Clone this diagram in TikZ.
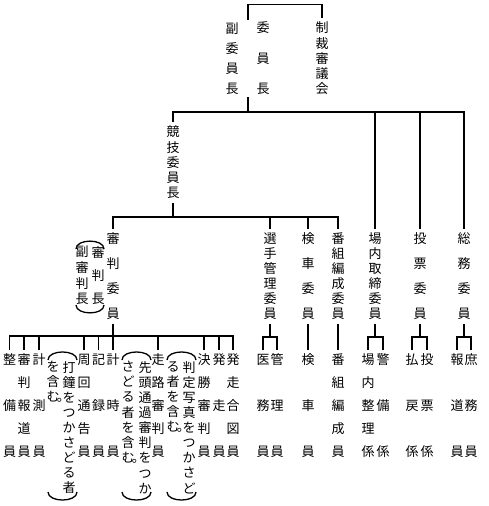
\documentclass[tikz,border=0pt]{standalone}
\usepackage{fontspec}
\newfontfamily\cjk{Noto Sans CJK JP}
\newcommand{\muend}{む\rlap{\kern-0.2em 。}}
\begin{document}
\begin{tikzpicture}[x=1pt,y=-1pt,line width=1.8pt,
  vc/.style={font=\cjk\fontsize{13}{#1}\selectfont, align=center, inner xsep=0pt, inner ysep=3.5pt},
  parenarc/.style={line width=1.3pt}]
\useasboundingbox (0,0) rectangle (488,506);
% top level
\node[vc=30.5] (iin) at (263,58.5) {委\\員\\長};
\node[vc=20] (fuku) at (232,59) {副\\委\\員\\長};
\node[vc=15.25] (seisai) at (322,58.5) {制\\裁\\審\\議\\会};
\node[vc=15.25] (kyougi) at (173,162.5) {競\\技\\委\\員\\長};
% second level
\node[vc=25] (shinpan) at (113,276.5) {審\\判\\委\\員};
\node[vc=23] (shc) at (98,276) {審\\判\\長};
\node[vc=15.67] (fshc) at (82,275.5) {副\\審\\判\\長};
\node[vc=15] (senshu) at (270,276.5) {選\\手\\管\\理\\委\\員};
\node[vc=25] (kensha) at (308,276.5) {検\\車\\委\\員};
\node[vc=15] (bangumi) at (338,276.5) {番\\組\\編\\成\\委\\員};
\node[vc=15] (jounai) at (375,276.5) {場\\内\\取\\締\\委\\員};
\node[vc=25] (touhyou) at (420,276.5) {投\\票\\委\\員};
\node[vc=25] (soumu) at (464,276.5) {総\\務\\委\\員};
% children of right side
\node[vc=46] (imu) at (263,406) {医\\務\\員};
\node[vc=46] (kanri) at (277,406) {管\\理\\員};
\node[vc=46] (kensa) at (308,406) {検\\車\\員};
\node[vc=23] (bangumiin) at (338,406) {番\\組\\編\\成\\員};
\node[vc=23] (seiri) at (368,406) {場\\内\\整\\理\\係};
\node[vc=46] (keibi) at (383,406) {警\\備\\係};
\node[vc=46] (harai) at (412,406) {払\\戻\\係};
\node[vc=46] (touhyoukakari) at (427,406) {投\\票\\係};
\node[vc=46] (houdou) at (457,406) {報\\道\\員};
\node[vc=46] (shomu) at (471,406) {庶\\務\\員};
% bottom row
\node[vc=46] (seibi) at (9.5,406) {整\\備\\員};
\node[vc=23] (shinhou) at (24,406) {審\\判\\報\\道\\員};
\node[vc=46] (keisoku) at (39,406) {計\\測\\員};
\node[vc=15.1] (dashou) at (69,427.5) {打\\鐘\\を\\つ\\か\\さ\\ど\\る\\者};
\node[vc=15.1] (dashouL) at (53,382.1) {を\\含\\\muend};
\node[vc=23] (shuukai) at (84,406) {周\\回\\通\\告\\員};
\node[vc=46] (kiroku) at (98.5,406) {記\\録\\員};
\node[vc=46] (keiji) at (113,406) {計\\時\\員};
\node[vc=15.1] (sentou) at (145,427.5) {先\\頭\\通\\過\\審\\判\\を\\つ\\か};
\node[vc=15.1] (sentouL) at (128,412.3) {さ\\ど\\る\\者\\を\\含\\\muend};
\node[vc=23] (sourou) at (158,406) {走\\路\\審\\判\\員};
\node[vc=15.1] (hantei) at (189,427.5) {判\\定\\写\\真\\を\\つ\\か\\さ\\ど};
\node[vc=15.1] (hanteiL) at (173,397.2) {る\\者\\を\\含\\\muend};
\node[vc=23] (kesshou) at (204,406) {決\\勝\\審\\判\\員};
\node[vc=46] (hassou) at (219,406) {発\\走\\員};
\node[vc=23] (aizu) at (233,406) {発\\走\\合\\図\\員};
% parenthesis arcs
\draw[parenarc] (76,249) .. controls (76,238.5) and (104,238.5) .. (104,249);
\draw[parenarc] (76,305) .. controls (76,315.5) and (104,315.5) .. (104,305);
\draw[parenarc] (48,360) .. controls (48,349.3) and (77,349.3) .. (77,360);
\draw[parenarc] (48,492) .. controls (48,502.7) and (77,502.7) .. (77,492);
\draw[parenarc] (122,360) .. controls (122,349.3) and (151,349.3) .. (151,360);
\draw[parenarc] (122,492) .. controls (122,502.7) and (151,502.7) .. (151,492);
\draw[parenarc] (167,360) .. controls (167,349.3) and (196,349.3) .. (196,360);
\draw[parenarc] (167,492) .. controls (167,502.7) and (196,502.7) .. (196,492);
% junction coordinates
\coordinate (legTop) at (248,20);
\coordinate (legBot) at (248,97);
\coordinate (hTop) at (0,4.5);
\coordinate (hA) at (0,112);
\coordinate (hB) at (0,217);
\coordinate (hC) at (0,336);
\coordinate (hD) at (0,337);
% connectors
\draw (legTop) -- (legTop |- hTop) -| (seisai.north);
\draw (legBot) -- (legBot |- hA);
\draw (kyougi.north) |- (soumu.north |- hA) -- (soumu.north);
\draw (jounai.north) -- (jounai.north |- hA);
\draw (touhyou.north) -- (touhyou.north |- hA);
\draw (kyougi.south) -- (kyougi.south |- hB);
\draw (shinpan.north) |- (bangumi.north |- hB) -- (bangumi.north);
\draw (senshu.north) -- (senshu.north |- hB);
\draw (kensha.north) -- (kensha.north |- hB);
% bottom bus
\draw (shinpan.south) -- (shinpan.south |- hC);
\draw (seibi.north) |- (aizu.north |- hC) -- (aizu.north);
\foreach \n in {shinhou,keisoku,shuukai,kiroku,keiji,sourou,kesshou,hassou}
  \draw (\n.north) -- (\n.north |- hC);
% child brackets
\draw (senshu.south) -- (senshu.south |- hD);
\draw (imu.north) |- (kanri.north |- hD) -- (kanri.north);
\draw (kensha.south) -- (kensa.north);
\draw (bangumi.south) -- (bangumiin.north);
\draw (jounai.south) -- (jounai.south |- hD);
\draw (seiri.north) |- (keibi.north |- hD) -- (keibi.north);
\draw (touhyou.south) -- (touhyou.south |- hD);
\draw (harai.north) |- (touhyoukakari.north |- hD) -- (touhyoukakari.north);
\draw (soumu.south) -- (soumu.south |- hD);
\draw (houdou.north) |- (shomu.north |- hD) -- (shomu.north);
\end{tikzpicture}
\end{document}
